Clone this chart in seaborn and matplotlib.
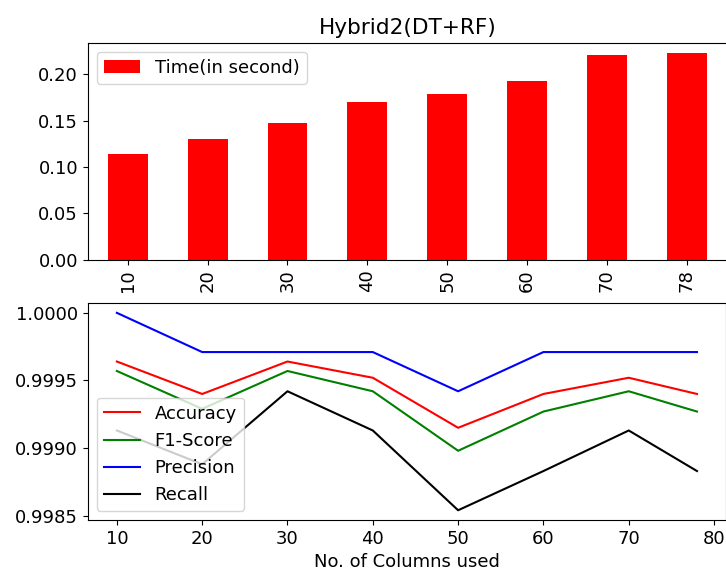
import matplotlib
matplotlib.use("Agg")
import matplotlib.pyplot as plt
from matplotlib.ticker import MultipleLocator, FormatStrFormatter
import seaborn as sns

# Number of feature columns used by the hybrid model
columns = [10, 20, 30, 40, 50, 60, 70, 78]
column_labels = [str(c) for c in columns]

# Training time in seconds
time_sec = [0.1144, 0.1298, 0.1478, 0.1701, 0.1784, 0.1925, 0.2205, 0.2230]

# Evaluation metrics
accuracy = [0.99964, 0.99940, 0.99964, 0.99952, 0.99915, 0.99940, 0.99952, 0.99940]
f1_score = [0.99957, 0.99929, 0.99957, 0.99942, 0.99898, 0.99927, 0.99942, 0.99927]
precision = [1.00000, 0.99971, 0.99971, 0.99971, 0.99942, 0.99971, 0.99971, 0.99971]
recall = [0.99913, 0.99888, 0.99942, 0.99913, 0.99854, 0.99883, 0.99913, 0.99883]

plt.rcParams["font.size"] = 13

fig = plt.figure(figsize=(7.26, 5.76), dpi=100)
ax1 = fig.add_axes([0.121, 0.549, 0.880, 0.377])
ax2 = fig.add_axes([0.121, 0.097, 0.879, 0.377])

# Top: training time bars
sns.barplot(x=column_labels, y=time_sec, color="red", saturation=1, width=0.5,
            label="Time(in second)", ax=ax1)
ax1.set_xlim(-0.5, len(columns) - 0.5)
ax1.set_ylim(0, max(time_sec) * 1.05)
ax1.yaxis.set_major_locator(MultipleLocator(0.05))
ax1.yaxis.set_major_formatter(FormatStrFormatter("%.2f"))
ax1.tick_params(axis="x", labelrotation=90)
ax1.set_xlabel("")
ax1.set_ylabel("")
ax1.set_title("Hybrid2(DT+RF)", fontsize="large")
ax1.legend(loc="upper left")

# Bottom: metric curves
for values, name, color in [(accuracy, "Accuracy", "red"),
                            (f1_score, "F1-Score", "green"),
                            (precision, "Precision", "blue"),
                            (recall, "Recall", "black")]:
    sns.lineplot(x=columns, y=values, color=color, label=name, linewidth=1.5, ax=ax2)

ax2.yaxis.set_major_locator(MultipleLocator(0.0005))
ax2.yaxis.set_major_formatter(FormatStrFormatter("%.4f"))
ax2.xaxis.set_major_locator(MultipleLocator(10))
ax2.set_xlabel("No. of Columns used")
ax2.set_ylabel("")
ax2.legend(loc="lower left")

fig.savefig("out.png", dpi=100)
